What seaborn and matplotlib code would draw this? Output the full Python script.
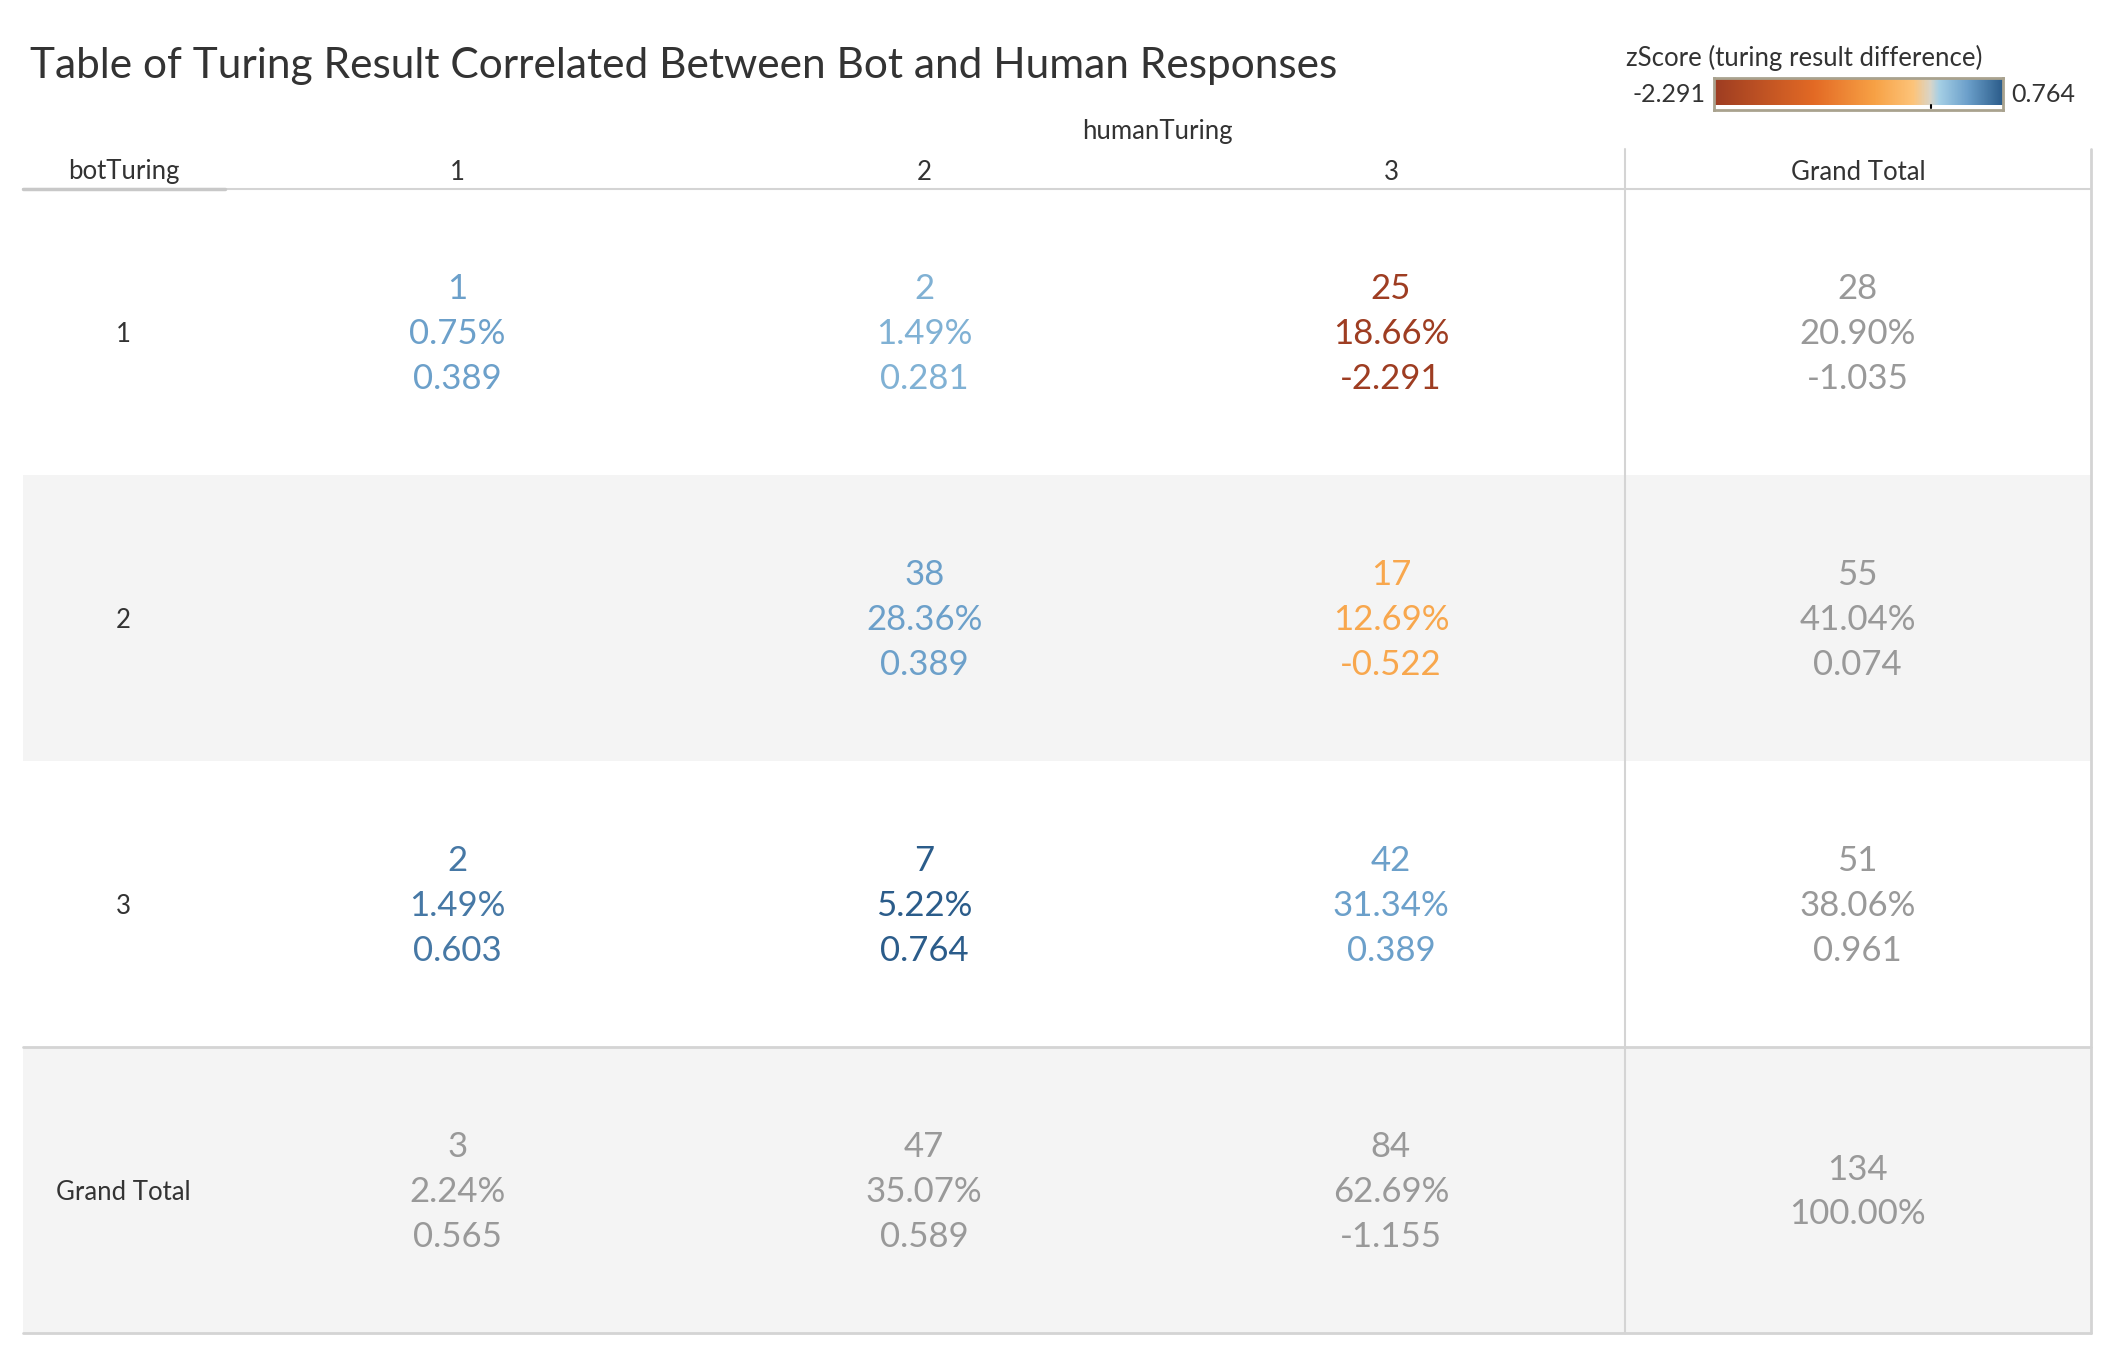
import numpy as np
import pandas as pd
import matplotlib
matplotlib.use("Agg")
import matplotlib.pyplot as plt
import seaborn as sns
from matplotlib.colors import LinearSegmentedColormap, TwoSlopeNorm, ListedColormap

# ---------------- data ----------------
human_levels = ["1", "2", "3"]
bot_levels = ["1", "2", "3"]
counts = [[1, 2, 25], [None, 38, 17], [2, 7, 42]]
pcts = [[0.75, 1.49, 18.66], [None, 28.36, 12.69], [1.49, 5.22, 31.34]]
zscores = [[0.389, 0.281, -2.291], [None, 0.389, -0.522], [0.603, 0.764, 0.389]]
row_tot_counts = [28, 55, 51]
row_tot_pcts = [20.90, 41.04, 38.06]
row_tot_z = [-1.035, 0.074, 0.961]
col_tot_counts = [3, 47, 84]
col_tot_pcts = [2.24, 35.07, 62.69]
col_tot_z = [0.565, 0.589, -1.155]
grand_count = 134
grand_pct = 100.00
z_min, z_max = -2.291, 0.764

# ---------------- style ----------------
sns.set_theme(style="white")
plt.rcParams["font.family"] = ["Lato", "DejaVu Sans"]

W, H = 2118, 1360
fig = plt.figure(figsize=(W / 100, H / 100), dpi=100)
fig.patch.set_facecolor("white")


def rect(x0, y0, x1, y1):
    return [x0 / W, 1 - y1 / H, (x1 - x0) / W, (y1 - y0) / H]


cmap = LinearSegmentedColormap.from_list(
    "tab_orange_blue",
    [(0.0, "#9e3d22"), (0.23, "#e36a25"), (0.37, "#f7a145"), (0.46, "#fdc47a"),
     (0.5, "#d9d5c9"), (0.56, "#a5cfe5"), (0.76, "#6b9fca"), (1.0, "#2b5c8a")])
norm = TwoSlopeNorm(vmin=z_min, vcenter=0.0, vmax=z_max)

HEAD = "#333333"
TOT = "#999999"
GRID = "#d4d4d4"
BAND = "#f4f4f4"

# row banding (row1 white, row2 grey, row3 white, grand total grey)
band = pd.DataFrame([[0, 0, 0, 0], [1, 1, 1, 1], [0, 0, 0, 0], [1, 1, 1, 1]],
                    index=bot_levels + ["Grand Total"],
                    columns=human_levels + ["Grand Total"])
band_cmap = ListedColormap(["white", BAND])

LEFT, LABR, VSEP, RIGHT = 23, 224, 1625, 2091
COLW = (VSEP - LABR) / 3.0
TOP, BOT = 189, 1333
ax = fig.add_axes(rect(LABR, TOP, RIGHT, BOT))
sns.heatmap(band, ax=ax, cmap=band_cmap, vmin=0, vmax=1, cbar=False,
            linewidths=0, xticklabels=False, yticklabels=False)
ax.set_xlabel("")
ax.set_ylabel("")

ax_lab = fig.add_axes(rect(LEFT, TOP, LABR, BOT))
sns.heatmap(band.iloc[:, :1], ax=ax_lab, cmap=band_cmap, vmin=0, vmax=1,
            cbar=False, linewidths=0, xticklabels=False, yticklabels=False)
ax_lab.set_xlabel("")
ax_lab.set_ylabel("")

row_h = (BOT - TOP) / 4.0
dy = 45 / row_h
sh = 2 / row_h
FS = 25
HFS = 18.5

# row labels
for i, lab in enumerate(band.index):
    ax_lab.text(0.5, i + 0.5 + sh, lab, ha="center", va="center", fontsize=HFS,
                color=HEAD)

# data cells
for i in range(3):
    for j in range(3):
        if counts[i][j] is None:
            continue
        c = cmap(norm(zscores[i][j]))
        lines = [f"{counts[i][j]}", f"{pcts[i][j]:.2f}%", f"{zscores[i][j]:.3f}"]
        for k, t in enumerate(lines):
            ax.text(j + 0.5, i + 0.5 + sh + (k - 1) * dy, t, ha="center",
                    va="center", fontsize=FS, color=c)

# row totals
for i in range(3):
    lines = [f"{row_tot_counts[i]}", f"{row_tot_pcts[i]:.2f}%", f"{row_tot_z[i]:.3f}"]
    for k, t in enumerate(lines):
        ax.text(3.5, i + 0.5 + sh + (k - 1) * dy, t, ha="center", va="center",
                fontsize=FS, color=TOT)

# column totals
for j in range(3):
    lines = [f"{col_tot_counts[j]}", f"{col_tot_pcts[j]:.2f}%", f"{col_tot_z[j]:.3f}"]
    for k, t in enumerate(lines):
        ax.text(j + 0.5, 3.5 + sh + (k - 1) * dy, t, ha="center", va="center",
                fontsize=FS, color=TOT)

# grand total
for k, t in enumerate([f"{grand_count}", f"{grand_pct:.2f}%"]):
    ax.text(3.5, 3.5 + sh + (k - 0.5) * dy, t, ha="center",
            va="center", fontsize=FS, color=TOT)

# ---------------- overlay for headers and rules ----------------
ov = fig.add_axes([0, 0, 1, 1], facecolor="none")
ov.set_xlim(0, W)
ov.set_ylim(H, 0)
ov.axis("off")

ov.text(30, 66, "Table of Turing Result Correlated Between Bot and Human Responses",
        ha="left", va="center", fontsize=30.5, color=HEAD, fontweight="normal")

ov.text((LABR + RIGHT) / 2, 132, "humanTuring", ha="center", va="center",
        fontsize=HFS, color=HEAD)
ov.text((LEFT + LABR) / 2, 172, "botTuring", ha="center", va="center",
        fontsize=HFS, color=HEAD)
for j, lab in enumerate(human_levels + ["Grand Total"]):
    ov.text(LABR + COLW * j + COLW / 2, 172, lab, ha="center", va="center",
            fontsize=HFS, color=HEAD)

ov.plot([LEFT, RIGHT], [TOP, TOP], color=GRID, lw=1.5)
ov.plot([LEFT, LABR + 1], [TOP, TOP], color="#c8c8c8", lw=2.5)
ov.plot([LEFT, RIGHT], [TOP + 3 * row_h, TOP + 3 * row_h], color=GRID, lw=2)
ov.plot([LEFT, RIGHT], [BOT, BOT], color=GRID, lw=2)
ov.plot([VSEP, VSEP], [149, BOT], color=GRID, lw=1.5)
ov.plot([RIGHT, RIGHT], [149, BOT], color=GRID, lw=2)

# ---------------- colour legend ----------------
ov.text(1626, 58, "zScore (turing result difference)", ha="left", va="center",
        fontsize=18.5, color=HEAD, fontweight="normal")
cax = fig.add_axes(rect(1714, 78, 2003, 110))
grad = np.linspace(z_min, z_max, 600)[None, :]
cax.imshow(grad, aspect="auto", cmap=cmap, norm=norm,
           extent=[z_min, z_max, 0, 1])
cax.set_xlim(z_min, z_max)
cax.set_yticks([])
cax.set_xticks([])
for s in cax.spines.values():
    s.set_visible(True)
    s.set_color("#a9a28e")
    s.set_linewidth(2)
cax.plot([0, 0], [0, -0.15], color="black", lw=1.5, clip_on=False)
ov.text(1705, 95, f"{z_min:.3f}", ha="right", va="center", fontsize=18, color=HEAD)
ov.text(2011, 95, f"{z_max:.3f}", ha="left", va="center", fontsize=18, color=HEAD)

fig.savefig("out.png", dpi=100, facecolor="white")
